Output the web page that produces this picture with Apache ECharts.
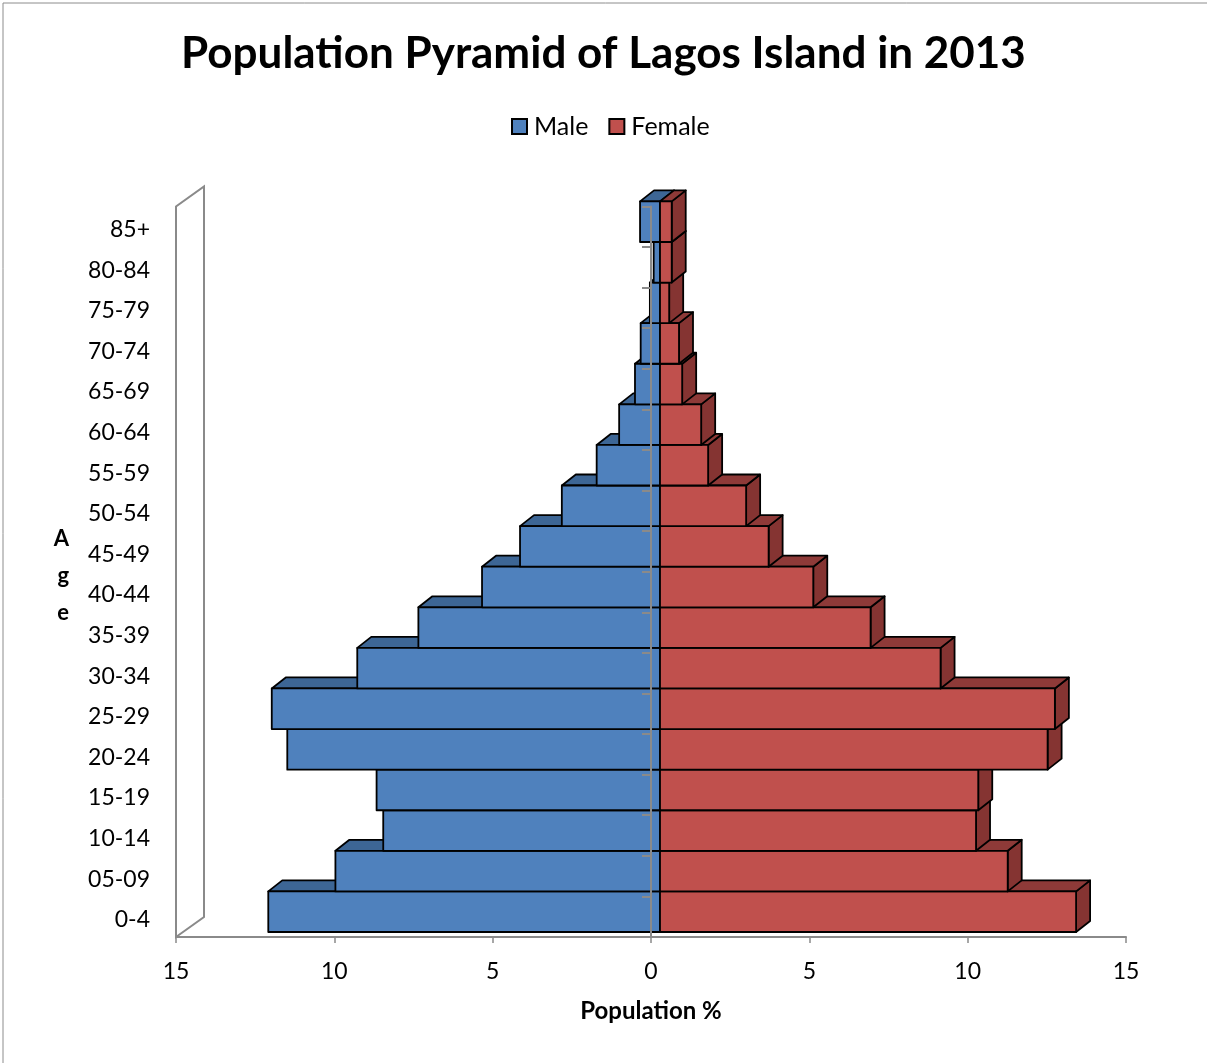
<!DOCTYPE html>
<html>
<head>
<meta charset="utf-8">
<title>Population Pyramid of Lagos Island in 2013</title>
<script src="https://cdn.jsdelivr.net/npm/echarts@6/dist/echarts.min.js"></script>
<style>
  html, body { margin: 0; padding: 0; background: #ffffff; }
  #chart { width: 1207px; height: 1063px; }
</style>
</head>
<body>
<div id="chart"></div>
<script>
// Age groups, bottom to top
const ages = ['0-4', '05-09', '10-14', '15-19', '20-24', '25-29', '30-34', '35-39', '40-44',
              '45-49', '50-54', '55-59', '60-64', '65-69', '70-74', '75-79', '80-84', '85+'];

// Share of population (%) per age group
const male   = [12.37, 10.25, 8.74, 8.95, 11.77, 12.26, 9.56, 7.63, 5.62,
                4.42, 3.10, 2.00, 1.29, 0.79, 0.61, 0.32, 0.20, 0.63];
const female = [13.14, 10.98, 9.98, 10.05, 12.24, 12.47, 8.86, 6.65, 4.84,
                3.43, 2.72, 1.52, 1.30, 0.70, 0.60, 0.29, 0.37, 0.37];

const xTicks = { min: -15, max: 15, step: 5 };

const FONT = 'Lato, "Open Sans", sans-serif';
const AXIS_GREY = '#8a8a8a';

// Oblique 3D look: bars sit slightly behind the front plane and have depth
const FRONT = [9, -5];   // front face offset from the axis plane
const DEPTH = [14, -11]; // depth of each bar
const WALL = [28, -20];  // depth of the back wall

function boxRenderer(faceColors) {
  return function (params, api) {
    const cat = api.value(0);
    const val = api.value(1);
    const p0 = api.coord([0, cat]);
    const p1 = api.coord([val, cat]);
    const h = api.size([0, 1])[1];
    const xa = Math.min(p0[0], p1[0]) + FRONT[0];
    const xb = Math.max(p0[0], p1[0]) + FRONT[0];
    const y0 = p0[1] - h / 2 + FRONT[1];
    const y1 = p0[1] + h / 2 + FRONT[1];
    const stroke = { stroke: '#000', lineWidth: 1.8, lineJoin: 'round' };
    return {
      type: 'group',
      children: [
        {
          type: 'polygon',
          shape: { points: [[xb, y0], [xb + DEPTH[0], y0 + DEPTH[1]], [xb + DEPTH[0], y1 + DEPTH[1]], [xb, y1]] },
          style: Object.assign({ fill: faceColors.side }, stroke)
        },
        {
          type: 'polygon',
          shape: { points: [[xa, y0], [xb, y0], [xb + DEPTH[0], y0 + DEPTH[1]], [xa + DEPTH[0], y0 + DEPTH[1]]] },
          style: Object.assign({ fill: faceColors.top }, stroke)
        },
        {
          type: 'rect',
          shape: { x: xa, y: y0, width: xb - xa, height: y1 - y0 },
          style: Object.assign({ fill: faceColors.front }, stroke)
        }
      ]
    };
  };
}

function wallRenderer(params, api) {
  const h = api.size([0, 1])[1];
  const bottom = api.coord([xTicks.min, 0]);
  const top = api.coord([xTicks.min, ages.length - 1]);
  const x = bottom[0];
  const yb = bottom[1] + h / 2;
  const yt = top[1] - h / 2;
  return {
    type: 'polygon',
    shape: { points: [[x, yb], [x + WALL[0], yb + WALL[1]], [x + WALL[0], yt + WALL[1]], [x, yt]] },
    style: { fill: 'none', stroke: AXIS_GREY, lineWidth: 2 }
  };
}

const chart = echarts.init(document.getElementById('chart'), null, { renderer: 'canvas' });

const option = {
  backgroundColor: '#ffffff',
  animation: false,
  title: {
    text: 'Population Pyramid of Lagos Island in 2013',
    left: 'center',
    top: 27,
    textStyle: { fontFamily: FONT, fontWeight: 'bold', fontSize: 44, color: '#000' }
  },
  legend: {
    top: 109,
    left: 506,
    itemWidth: 15,
    itemHeight: 15,
    itemGap: 20,
    icon: 'rect',
    data: ['Male', 'Female'],
    textStyle: { fontFamily: FONT, fontSize: 25, color: '#000', padding: [0, 0, 0, 2] }
  },
  grid: { left: 176, right: 81, top: 206.4, bottom: 126, containLabel: false },
  xAxis: {
    type: 'value',
    min: xTicks.min,
    max: xTicks.max,
    interval: xTicks.step,
    name: 'Population %',
    nameLocation: 'middle',
    nameGap: 62,
    nameTextStyle: { fontFamily: FONT, fontWeight: 'bold', fontSize: 24, color: '#000' },
    axisLine: { show: true, onZero: false, lineStyle: { color: AXIS_GREY, width: 2 } },
    axisTick: { show: true, length: 6, lineStyle: { color: AXIS_GREY, width: 1.5 } },
    axisLabel: {
      fontFamily: FONT, fontSize: 23, color: '#000', margin: 23,
      formatter: v => String(Math.abs(v))
    },
    splitLine: { show: false }
  },
  yAxis: [
    {
      type: 'category',
      data: ages,
      position: 'left',
      name: '{s|}\n{a|A\ng\ne}',
      nameLocation: 'middle',
      nameRotate: 0,
      nameGap: 107,
      nameTextStyle: {
        fontFamily: FONT, fontWeight: 'bold', fontSize: 22, color: '#000',
        rich: {
          s: { height: 9, lineHeight: 9 },
          a: { fontFamily: FONT, fontWeight: 'bold', fontSize: 22, color: '#000', lineHeight: 37 }
        }
      },
      axisLine: { show: false, onZero: false },
      axisTick: { show: false },
      axisLabel: {
        margin: 26,
        formatter: v => '{s|}\n{a|' + v + '}',
        rich: {
          s: { height: 6, lineHeight: 6 },
          a: { fontFamily: FONT, fontSize: 23, color: '#000', lineHeight: 28 }
        }
      },
      splitLine: { show: false }
    },
    {
      type: 'category',
      data: ages,
      position: 'left',
      z: 10,
      axisLine: { show: true, onZero: true, lineStyle: { color: AXIS_GREY, width: 2 } },
      axisTick: { show: true, length: 9, inside: false, lineStyle: { color: AXIS_GREY, width: 2 } },
      axisLabel: { show: false },
      splitLine: { show: false }
    }
  ],
  series: [
    {
      type: 'custom',
      name: 'wall',
      yAxisIndex: 0,
      silent: true,
      renderItem: wallRenderer,
      data: [[xTicks.min, 0]],
      encode: { x: 0, y: 1 },
      z: 1
    },
    {
      type: 'custom',
      name: 'Male',
      yAxisIndex: 0,
      itemStyle: { color: '#4F81BD', borderColor: '#000', borderWidth: 1.5 },
      renderItem: boxRenderer({ front: '#4F81BD', top: '#3D6695', side: '#3A5F8C' }),
      data: male.map((v, i) => [i, -v]),
      encode: { x: 1, y: 0 },
      z: 2
    },
    {
      type: 'custom',
      name: 'Female',
      yAxisIndex: 0,
      itemStyle: { color: '#C0504D', borderColor: '#000', borderWidth: 1.5 },
      renderItem: boxRenderer({ front: '#C0504D', top: '#8E3A38', side: '#853432' }),
      data: female.map((v, i) => [i, v]),
      encode: { x: 1, y: 0 },
      z: 3
    }
  ],
  graphic: [
    {
      type: 'rect',
      left: 0.5,
      top: 0.5,
      shape: { width: 1205, height: 1061 },
      style: { fill: 'none', stroke: '#8c8c8c', lineWidth: 1 },
      silent: true,
      z: 100
    }
  ]
};

chart.setOption(option);
</script>
</body>
</html>
